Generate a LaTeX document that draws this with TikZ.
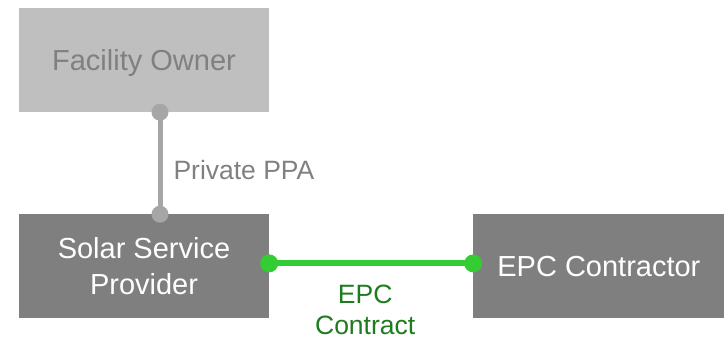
\documentclass[tikz,border=0pt]{standalone}
\usepackage{fontspec}
\setmainfont{Liberation Sans}
\usetikzlibrary{positioning}
\definecolor{ppOwner}{HTML}{BFBFBF}
\definecolor{ppOwnerText}{HTML}{808080}
\definecolor{ppParty}{HTML}{7F7F7F}
\definecolor{ppLink}{HTML}{A6A6A6}
\definecolor{ppEpc}{HTML}{33CC33}
\definecolor{ppEpcText}{HTML}{1E7B1E}
\tikzset{
    ppBoxBase/.style={
        rectangle,
        minimum height=104pt,
        minimum width=250pt,
        inner sep=0pt,
        text depth=0pt,
        font=\fontsize{29}{36}\selectfont,
        align=center
    },
    % Parties
    owner/.style={ppBoxBase, fill=ppOwner, text=ppOwnerText},
    party/.style={ppBoxBase, fill=ppParty, text=white},
    % Contracts
    ppaLink/.style={draw=ppLink, line width=5pt},
    epcLink/.style={draw=ppEpc, line width=6pt},
    ppLabel/.style={
        font=\fontsize{26.5}{31}\selectfont,
        align=center,
        inner sep=0pt,
        text depth=0pt
    }
}
\begin{document}
\begin{tikzpicture}[x=1pt, y=1pt]
\useasboundingbox (0,0) rectangle (724,337);
\node[owner] (owner) at (144,277) {Facility Owner};
\node[party, below=102pt of owner] (provider) {Solar Service\\Provider};
\node[party, minimum width=251pt, right=204pt of provider] (epc) {EPC Contractor};

\draw[ppaLink] ([xshift=16pt]owner.south) -- node[right=11pt, yshift=-7pt, ppLabel, text=ppOwnerText] {Private PPA} ([xshift=16pt]provider.north);
\fill[ppLink] ([xshift=16pt]owner.south) circle[radius=8.5pt];
\fill[ppLink] ([xshift=16pt]provider.north) circle[radius=8.5pt];

\draw[epcLink] ([yshift=3pt]provider.east) -- node[below=19pt, xshift=-6pt, ppLabel, text=ppEpcText] {EPC\\Contract} ([yshift=3pt]epc.west);
\fill[ppEpc] ([yshift=3pt]provider.east) circle[radius=9pt];
\fill[ppEpc] ([yshift=3pt]epc.west) circle[radius=9pt];
\end{tikzpicture}
\end{document}
